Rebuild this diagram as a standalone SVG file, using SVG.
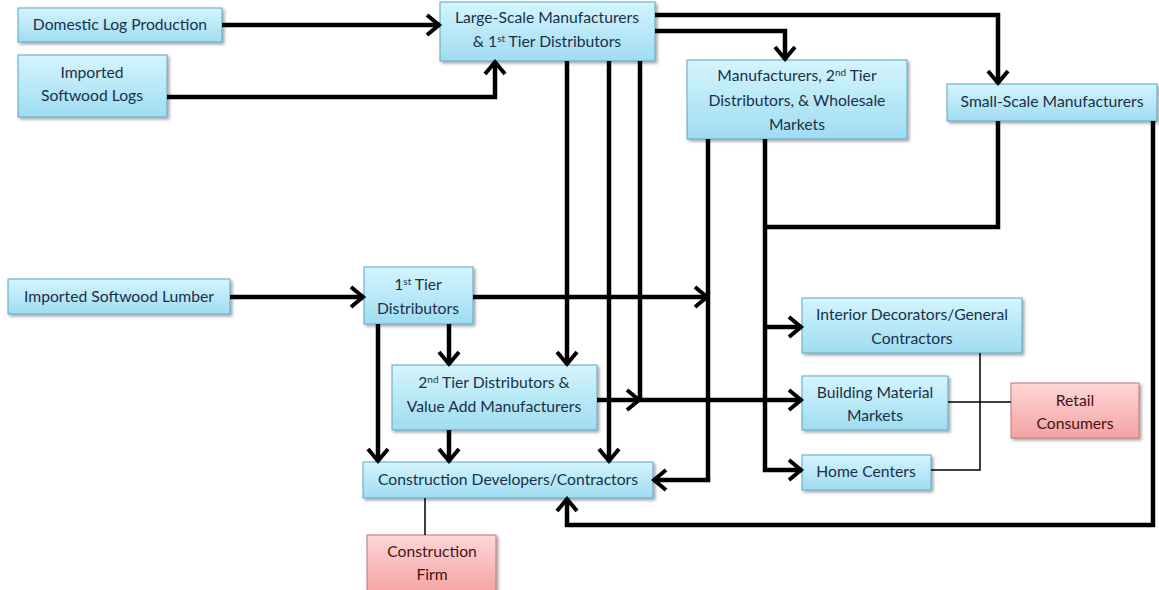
<svg xmlns="http://www.w3.org/2000/svg" width="1159" height="590" viewBox="0 0 1159 590">
<defs>
<linearGradient id="gb" x1="0" y1="0" x2="0" y2="1">
<stop offset="0" stop-color="#d4f5fd"/>
<stop offset="1" stop-color="#9fdcf1"/>
</linearGradient>
<linearGradient id="gr" x1="0" y1="0" x2="0" y2="1">
<stop offset="0" stop-color="#ffd6d6"/>
<stop offset="1" stop-color="#f4a3a3"/>
</linearGradient>
<filter id="sh" x="-10%" y="-10%" width="120%" height="130%">
<feDropShadow dx="2" dy="2" stdDeviation="1.5" flood-color="#000" flood-opacity="0.35"/>
</filter>
<marker id="ar" markerUnits="userSpaceOnUse" markerWidth="24" markerHeight="24" viewBox="0 0 24 24" refX="19" refY="12" orient="auto">
<path d="M6,2 L18,12 L6,22" fill="none" stroke="#000" stroke-width="4" stroke-linejoin="miter"/>
</marker>
</defs>
<style>
.b{fill:url(#gb);stroke:#5ba6c4;stroke-width:1;filter:url(#sh)}
.r{fill:url(#gr);stroke:#c07575;stroke-width:1;filter:url(#sh)}
text{font-family:Lato,"Open Sans","Liberation Sans",sans-serif;font-size:15.7px;text-anchor:middle;fill:#1a3049}
.rt{fill:#451313}
.sup{font-size:10px}
.c{fill:none;stroke:#000;stroke-width:4.5;stroke-linejoin:miter}
.a{marker-end:url(#ar)}
.t{fill:none;stroke:#000;stroke-width:1.5}
</style>
<rect width="1159" height="590" fill="#fff"/>

<g id="n-domestic"><rect class="b" x="18" y="8" width="204" height="34"/><text x="120" y="30">Domestic Log Production</text></g>
<g id="n-imported-logs"><rect class="b" x="18" y="55" width="149" height="62"/><text x="92" y="78">Imported</text><text x="92" y="101">Softwood Logs</text></g>
<g id="n-large"><rect class="b" x="440" y="2" width="215" height="59"/><text x="547" y="23">Large-Scale Manufacturers</text><text x="547" y="47">&amp; 1<tspan class="sup" dy="-5">st</tspan><tspan dy="5"> Tier Distributors</tspan></text></g>
<g id="n-manuf2"><rect class="b" x="687" y="60" width="220" height="79"/><text x="797" y="81">Manufacturers, 2<tspan class="sup" dy="-5">nd</tspan><tspan dy="5"> Tier</tspan></text><text x="797" y="106">Distributors, &amp; Wholesale</text><text x="797" y="130">Markets</text></g>
<g id="n-small"><rect class="b" x="947" y="84" width="210" height="37"/><text x="1052" y="107">Small-Scale Manufacturers</text></g>
<g id="n-lumber"><rect class="b" x="8" y="279" width="222" height="35"/><text x="119" y="302">Imported Softwood Lumber</text></g>
<g id="n-tier1"><rect class="b" x="364" y="267" width="109" height="57"/><text x="418" y="290">1<tspan class="sup" dy="-5">st</tspan><tspan dy="5"> Tier</tspan></text><text x="418" y="314">Distributors</text></g>
<g id="n-tier2"><rect class="b" x="392" y="365" width="205" height="65"/><text x="494" y="388">2<tspan class="sup" dy="-5">nd</tspan><tspan dy="5"> Tier Distributors &amp;</tspan></text><text x="494" y="412">Value Add Manufacturers</text></g>
<g id="n-construction"><rect class="b" x="363" y="462" width="290" height="36"/><text x="508" y="485">Construction Developers/Contractors</text></g>
<g id="n-firm"><rect class="r" x="367" y="535" width="129" height="58"/><text class="rt" x="432" y="557">Construction</text><text class="rt" x="432" y="580">Firm</text></g>
<g id="n-interior"><rect class="b" x="802" y="298" width="220" height="55"/><text x="912" y="320">Interior Decorators/General</text><text x="912" y="344">Contractors</text></g>
<g id="n-building"><rect class="b" x="802" y="376" width="146" height="54"/><text x="875" y="398">Building Material</text><text x="875" y="421">Markets</text></g>
<g id="n-retail"><rect class="r" x="1011" y="383" width="128" height="55"/><text class="rt" x="1075" y="406">Retail</text><text class="rt" x="1075" y="429">Consumers</text></g>
<g id="n-home"><rect class="b" x="802" y="455" width="129" height="35"/><text x="866" y="477">Home Centers</text></g>

<g id="connectors">
<path class="c a" d="M222,25 H440"/>
<path class="c a" d="M167,97 H495 V61"/>
<path class="c a" d="M655,15 H998 V84"/>
<path class="c a" d="M655,31 H785 V60"/>
<path class="c a" d="M567,61 V365"/>
<path class="c a" d="M609,61 V462"/>
<path class="c" d="M640,61 V400"/>
<path class="c a" d="M708,139 V480 H653"/>
<path class="c a" d="M765,139 V470 H802"/>
<path class="c a" d="M765,327 H802"/>
<path class="c a" d="M597,400 H640"/>
<path class="c a" d="M640,400 H802"/>
<path class="c" d="M765,227 H998 V121"/>
<path class="c a" d="M230,297 H364"/>
<path class="c a" d="M473,297 H708"/>
<path class="c a" d="M378,324 V462"/>
<path class="c a" d="M449,324 V365"/>
<path class="c a" d="M449,430 V462"/>
<path class="c a" d="M1153,121 V525 H567 V498"/>
<path class="t" d="M948,402 H1011"/>
<path class="t" d="M980,353 V470 H931"/>
<path class="t" d="M425,498 V535"/>
</g>
</svg>
